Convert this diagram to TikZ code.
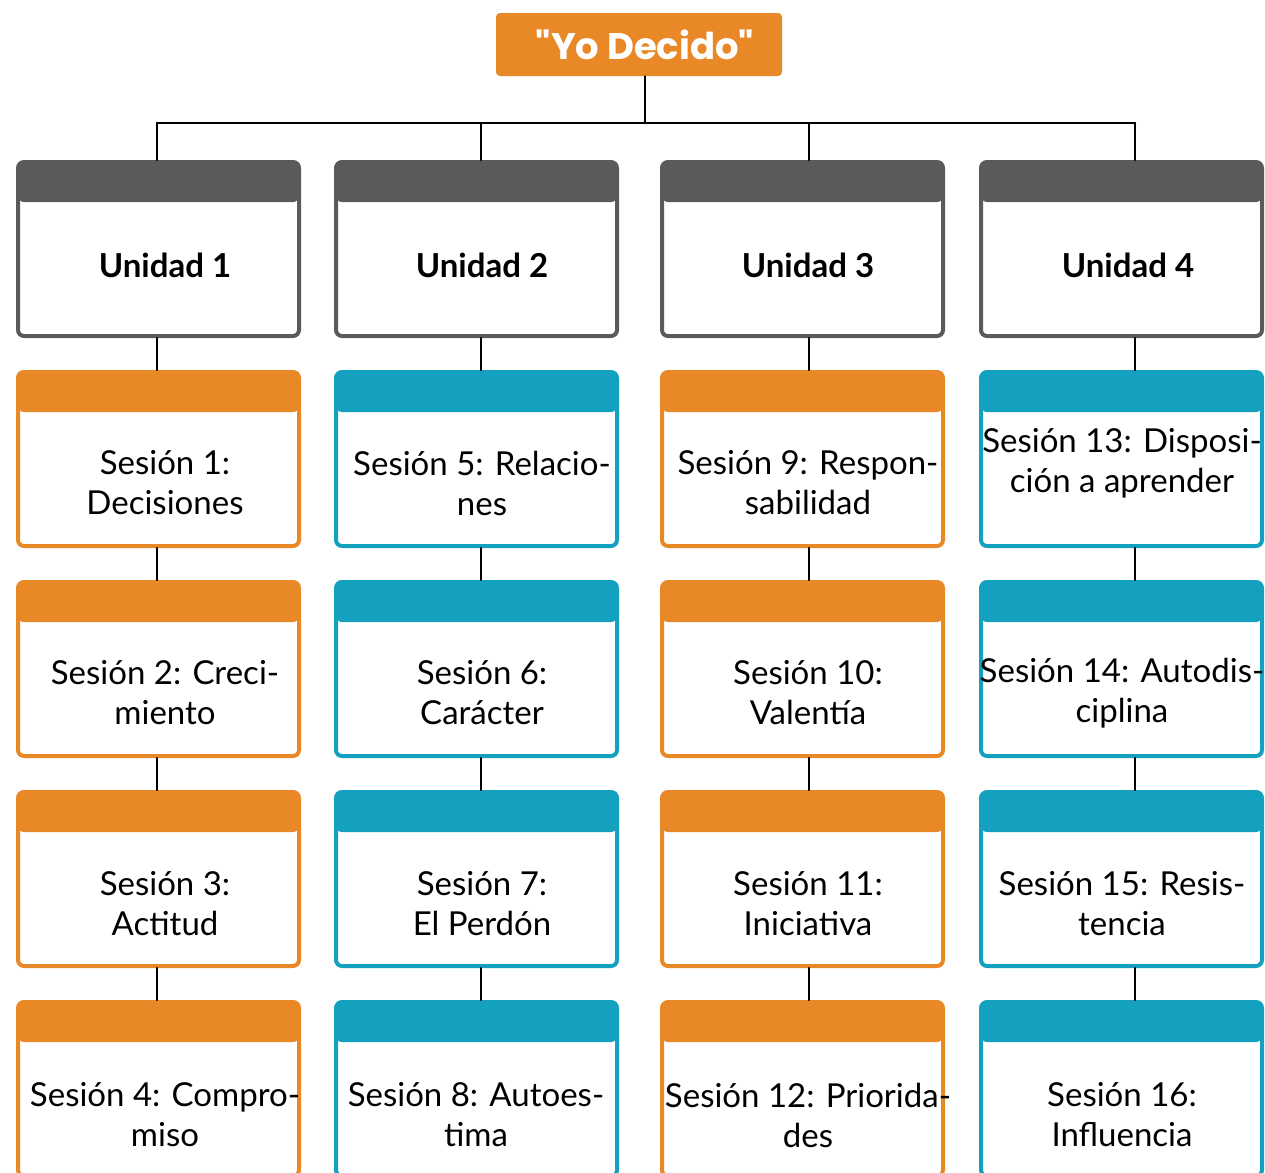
\documentclass[tikz,border=0pt]{standalone}
\usepackage{fontspec}
\setmainfont{Lato}
\newfontfamily\titlefont{Poppins}
\usetikzlibrary{positioning}
\definecolor{naranja}{RGB}{233,136,38}
\definecolor{turquesa}{RGB}{20,161,191}
\definecolor{gris}{RGB}{90,90,92}
\begin{document}
\begin{tikzpicture}[x=0.5pt,y=-0.5pt,line cap=round,line join=round,
  link/.style={line width=1.2pt,black},
  card/.style={rectangle,rounded corners=3pt,draw=#1,fill=white,line width=2pt,
    minimum width=140.5pt,minimum height=87pt,inner sep=0pt,
    path picture={\fill[#1] (path picture bounding box.north west) rectangle ([yshift=-20pt]path picture bounding box.north east);}},
  txt/.style={align=center,inner sep=0pt,font=\fontsize{16.5}{20}\selectfont},
  unidad/.style={align=center,inner sep=0pt,font=\bfseries\fontsize{16.5}{20}\selectfont},
  titulo/.style={fill=naranja,rounded corners=2pt,minimum width=143pt,minimum height=31.5pt,
    text=white,font=\titlefont\bfseries\fontsize{18.5}{22}\selectfont}]
      \useasboundingbox (0,0) rectangle (1265,1173);
      \clip (0,0) rectangle (1265,1173);
      \node[titulo] (yo) at (639,44.5) {};
      \node[text=white,font=\titlefont\bfseries\fontsize{18.5}{22}\selectfont] (yt) at (645,45) {"Yo Decido"};
      \node[card=gris] (u1) at (158.5,249) {};
      \node[card=gris] (u2) at (476.5,249) {};
      \node[card=gris] (u3) at (802.5,249) {};
      \node[card=gris] (u4) at (1121.5,249) {};
      \node[card=naranja] (s1) at (158.5,459) {};
      \node[card=naranja] (s2) at (158.5,669) {};
      \node[card=naranja] (s3) at (158.5,879) {};
      \node[card=naranja] (s4) at (158.5,1089) {};
      \node[card=turquesa] (s5) at (476.5,459) {};
      \node[card=turquesa] (s6) at (476.5,669) {};
      \node[card=turquesa] (s7) at (476.5,879) {};
      \node[card=turquesa] (s8) at (476.5,1089) {};
      \node[card=naranja] (s9) at (802.5,459) {};
      \node[card=naranja] (s10) at (802.5,669) {};
      \node[card=naranja] (s11) at (802.5,879) {};
      \node[card=naranja] (s12) at (802.5,1089) {};
      \node[card=turquesa] (s13) at (1121.5,459) {};
      \node[card=turquesa] (s14) at (1121.5,669) {};
      \node[card=turquesa] (s15) at (1121.5,879) {};
      \node[card=turquesa] (s16) at (1121.5,1089) {};
      \coordinate (bus) at (645,123);
      \coordinate (c1) at (157,123);
      \coordinate (c2) at (481,123);
      \coordinate (c3) at (809,123);
      \coordinate (c4) at (1135,123);
      \draw[link] (yo.south -| bus) -- (bus);
      \draw[link] (c1) -- (c4);
      \draw[link] (c1) -- (u1.north -| c1) (c2) -- (u2.north -| c2) (c3) -- (u3.north -| c3) (c4) -- (u4.north -| c4);
      \draw[link] (u1.south -| c1) -- (s1.north -| c1) (s1.south -| c1) -- (s2.north -| c1) (s2.south -| c1) -- (s3.north -| c1) (s3.south -| c1) -- (s4.north -| c1);
      \draw[link] (u2.south -| c2) -- (s5.north -| c2) (s5.south -| c2) -- (s6.north -| c2) (s6.south -| c2) -- (s7.north -| c2) (s7.south -| c2) -- (s8.north -| c2);
      \draw[link] (u3.south -| c3) -- (s9.north -| c3) (s9.south -| c3) -- (s10.north -| c3) (s10.south -| c3) -- (s11.north -| c3) (s11.south -| c3) -- (s12.north -| c3);
      \draw[link] (u4.south -| c4) -- (s13.north -| c4) (s13.south -| c4) -- (s14.north -| c4) (s14.south -| c4) -- (s15.north -| c4) (s15.south -| c4) -- (s16.north -| c4);
      \node[unidad] (n1) at (165,265) {Unidad 1};
      \node[unidad] (n2) at (482,265) {Unidad 2};
      \node[unidad] (n3) at (808,265) {Unidad 3};
      \node[unidad] (n4) at (1128,265) {Unidad 4};
      \node[txt] (t1) at (165,483) {Sesión 1:\\Decisiones};
      \node[txt] (t2) at (165,693) {Sesión 2: Creci-\\miento};
      \node[txt] (t3) at (165,904) {Sesión 3:\\Actitud};
      \node[txt] (t4) at (165,1115) {Sesión 4: Compro-\\miso};
      \node[txt] (t5) at (482,483) {Sesión 5: Relacio-\\nes};
      \node[txt] (t6) at (482,693) {Sesión 6:\\Carácter};
      \node[txt] (t7) at (482,904) {Sesión 7:\\El Perdón};
      \node[txt] (t8) at (476,1115) {Sesión 8: Autoes-\\tima};
      \node[txt] (t9) at (808,483) {Sesión 9: Respon-\\sabilidad};
      \node[txt] (t10) at (808,693) {Sesión 10:\\Valentía};
      \node[txt] (t11) at (808,904) {Sesión 11:\\Iniciativa};
      \node[txt] (t12) at (808,1115) {Sesión 12: Priorida-\\des};
      \node[txt] (t13) at (1122,463) {Sesión 13: Disposi-\\ción a aprender};
      \node[txt] (t14) at (1122,693) {Sesión 14: Autodis-\\ciplina};
      \node[txt] (t15) at (1122,904) {Sesión 15: Resis-\\tencia};
      \node[txt] (t16) at (1122,1115) {Sesión 16:\\Influencia};
    \end{tikzpicture}
\end{document}
